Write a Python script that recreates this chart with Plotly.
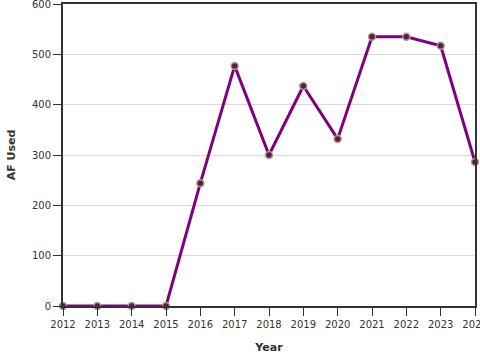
import plotly.graph_objects as go

years = [2012, 2013, 2014, 2015, 2016, 2017, 2018, 2019, 2020, 2021, 2022, 2023, 2024]
af_used = [0, 0, 0, 0, 244, 477, 300, 437, 332, 535, 535, 517, 286]
y_ticks = [0, 100, 200, 300, 400, 500, 600]

fig = go.Figure(go.Scatter(
    x=years, y=af_used, mode="lines+markers",
    line=dict(color="#800080", width=3),
    marker=dict(size=7, color="#5c1a50", line=dict(color="#a8a080", width=1.5)),
    cliponaxis=False,
))

axis_common = dict(
    showline=True, linecolor="#333333", linewidth=2, mirror=True,
    ticks="outside", ticklen=8, tickcolor="#333333", tickwidth=1,
    tickfont=dict(family="DejaVu Sans", size=10, color="#333333"),
    zeroline=False, automargin=False, ticklabeloverflow="allow",
)

fig.update_layout(
    width=480, height=360,
    margin=dict(l=63, r=5, t=4, b=54),
    plot_bgcolor="white", paper_bgcolor="white",
    showlegend=False,
    font=dict(family="DejaVu Sans", color="#333333"),
    xaxis=dict(
        range=[2012, 2024], tickmode="array", tickvals=years,
        ticktext=[str(y) for y in years], showgrid=False,
        title=dict(text="<b>Year</b>", font=dict(size=11), standoff=14),
        **axis_common,
    ),
    yaxis=dict(
        range=[0, 600], tickvals=y_ticks,
        showgrid=True, gridcolor="#d9d9d9", gridwidth=1,
        title=dict(text="<b>AF Used</b>", font=dict(size=11), standoff=14),
        **axis_common,
    ),
)

fig.write_html(
    "out.html",
    config={"displayModeBar": False},
    post_script="document.body.style.margin='0';document.body.style.overflow='hidden';",
)
